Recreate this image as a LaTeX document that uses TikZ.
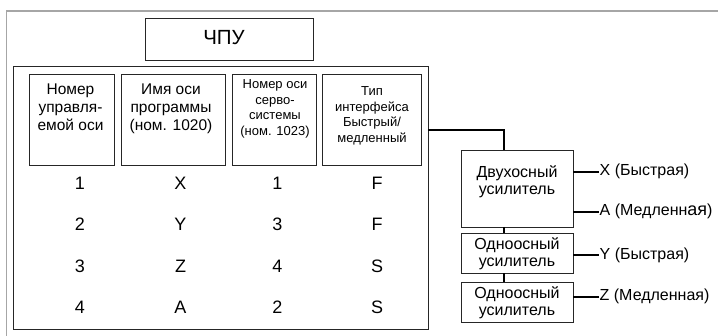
\documentclass[tikz,border=0pt]{standalone}
\usepackage{fontspec}
\setmainfont{Liberation Sans}
\begin{document}
\begin{tikzpicture}[x=1pt,y=-1pt,
  box/.style={draw=black!85, line width=0.9pt, inner sep=0pt, outer sep=0pt},
  conn/.style={draw=black, line width=2pt},
  hdr/.style={font=\fontsize{15.5}{18}\selectfont, align=center, inner sep=0pt, anchor=north},
  hdrs/.style={font=\fontsize{13}{15.6}\selectfont, align=center, inner sep=0pt, anchor=north},
  val/.style={font=\fontsize{18}{20}\selectfont, inner sep=0pt, anchor=base},
  amptxt/.style={font=\fontsize{16}{17}\selectfont, align=center, inner sep=0pt},
  lbl/.style={font=\fontsize{16}{18}\selectfont, inner sep=0.5pt, anchor=west}]
\useasboundingbox (0,0) rectangle (718,336);
% outer gray frame
\draw[gray!70, line width=1.6pt] (718,10.8) -- (6.5,10.8) -- (6.5,336);
% CNC box
\node[box, minimum width=168, minimum height=42.5] (cnc) at (229,39.5) {};
\node[font=\fontsize{20.5}{24}\selectfont, inner sep=0pt] (cnct) at (224,38) {ЧПУ};
% table frame
\node[box, minimum width=415, minimum height=262.5] (tbl) at (220.5,197.75) {};
% header boxes
\node[box, minimum width=85, minimum height=91] (h1) at (71.5,119.5) {};
\node[box, minimum width=104, minimum height=91] (h2) at (173,119.5) {};
\node[box, minimum width=84, minimum height=91] (h3) at (274,119.5) {};
\node[box, minimum width=99, minimum height=91] (h4) at (371.5,119.5) {};
\node[hdr] (h1t) at (70.5,83.5) {Номер\\управля-\\емой оси};
\node[hdr] (h2t) at (171,83.5) {Имя оси\\программы\\(ном. 1020)};
\node[hdrs] (h3t) at (275,79.5) {Номер оси\\серво-\\системы\\(ном. 1023)};
\node[hdrs] (h4t) at (372,86.5) {Тип\\интерфейса\\Быстрый/\\медленный};
% values
\node[val] (a1) at (80,190) {1};
\node[val] (b1) at (180.5,190) {X};
\node[val] (c1) at (277.5,190) {1};
\node[val] (d1) at (377,190) {F};
\node[val] (a2) at (80,230.5) {2};
\node[val] (b2) at (180.5,230.5) {Y};
\node[val] (c2) at (277.5,230.5) {3};
\node[val] (d2) at (377,230.5) {F};
\node[val] (a3) at (80,272.5) {3};
\node[val] (b3) at (180.5,272.5) {Z};
\node[val] (c3) at (277.5,272.5) {4};
\node[val] (d3) at (377,272.5) {S};
\node[val] (a4) at (80,314) {4};
\node[val] (b4) at (180.5,314) {A};
\node[val] (c4) at (277.5,314) {2};
\node[val] (d4) at (377,314) {S};
% amplifiers
\node[box, minimum width=112, minimum height=77] (dual) at (517,188.5) {};
\node[box, minimum width=112, minimum height=40.5] (s1) at (517,253.25) {};
\node[box, minimum width=112, minimum height=40] (s2) at (517,302) {};
\node[amptxt] (dualt) at (517,181.5) {Двухосный\\усилитель};
\node[amptxt] (s1t) at (517,253.5) {Одноосный\\усилитель};
\node[amptxt] (s2t) at (517,302.5) {Одноосный\\усилитель};
% bus
\coordinate (busx) at (503.5,0);
\draw[conn] (tbl.east |- 0,130) -| (dual.north -| busx);
\draw[conn] (dual.south -| busx) -- (s1.north -| busx);
\draw[conn] (s1.south -| busx) -- (s2.north -| busx);
% outputs
\node[lbl] (ox) at (599,171.7) {X (Быстрая)};
\node[lbl] (oa) at (599,211.7) {A (Медленн{\fontsize{18}{18}\selectfont ая})};
\node[lbl] (oy) at (599,255) {Y (Быстрая)};
\node[lbl] (oz) at (599,296.7) {Z (Медленная)};
\draw[conn] (dual.east |- ox.west) -- (ox.west);
\draw[conn] (dual.east |- oa.west) -- (oa.west);
\draw[conn] (s1.east |- oy.west) -- (oy.west);
\draw[conn] (s2.east |- oz.west) -- (oz.west);
\end{tikzpicture}
\end{document}
